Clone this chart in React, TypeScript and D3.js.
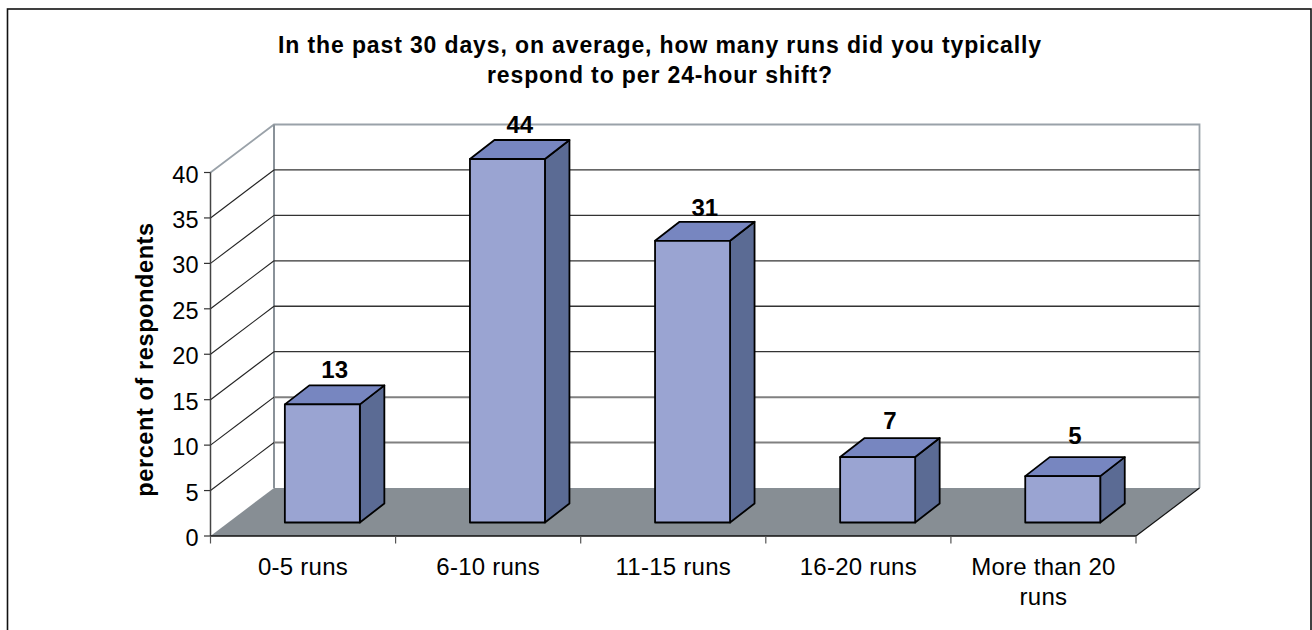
import React from "react";
import * as d3 from "d3";

const categories = ["0-5 runs", "6-10 runs", "11-15 runs", "16-20 runs", "More than 20 runs"];
const categoryLines = [["0-5 runs"], ["6-10 runs"], ["11-15 runs"], ["16-20 runs"], ["More than 20", "runs"]];
const labels = ["13", "44", "31", "7", "5"];
const values = [13, 44, 31, 7.2, 5.1];
const yTicks = [0, 5, 10, 15, 20, 25, 30, 35, 40];
const titleLines = [
  "In the past 30 days, on average, how many runs did you typically",
  "respond to per 24-hour shift?",
];
const yTitle = "percent of respondents";

const FONT = "'Liberation Sans', Arial, sans-serif";
const labelGap = [-26, -26, -24.5, -28, -32.5];
const frontLeft = 210.5, frontRight = 1136, frontBottom = 536, frontTop = 172.5;
const depthX = 63.5, depthY = -48;
const barShiftX = 19.3, barShiftY = -13.5;
const barDX = 24.5, barDY = -19;
const barW = 75;

const x = d3.scaleBand<string>().domain(categories).range([frontLeft, frontRight]).paddingInner(0).paddingOuter(0);
const y = d3.scaleLinear().domain([0, 40]).range([frontBottom, frontTop]).clamp(true);
const pts = (a: number[][]) => a.map((p) => p.join(",")).join(" ");

export default function App() {
  const xTicks = d3.range(0, 6).map((i) => frontLeft + i * x.bandwidth());
  return (
    <svg width={1312} height={630} style={{ position: "absolute", left: 0, top: 0 }} fontFamily={FONT}>
      <rect x={0} y={0} width={1312} height={630} fill="#fff" />
      <rect x={7.5} y={9} width={1303.5} height={640} fill="#fff" stroke="#111" strokeWidth={1.6} />
      {titleLines.map((t, i) => (
        <text key={t} x={660} y={52.5 + i * 30.5} textAnchor="middle" fontWeight="bold" fontSize={23} letterSpacing={0.87} fill="#000">{t}</text>
      ))}
      <polygon points={pts([[frontLeft, frontBottom], [frontRight, frontBottom], [frontRight + depthX, frontBottom + depthY], [frontLeft + depthX, frontBottom + depthY]])} fill="#878e94" />
      {/* walls */}
      <polyline points={pts([[frontLeft, frontTop], [frontLeft + depthX, frontTop + depthY], [frontRight + depthX, frontTop + depthY], [frontRight + depthX, frontBottom + depthY]])} fill="none" stroke="#9aa2a9" strokeWidth={1.8} />
      <line x1={frontLeft + depthX} x2={frontLeft + depthX} y1={frontTop + depthY} y2={frontBottom + depthY} stroke="#8a9299" strokeWidth={2} />
      {yTicks.slice(1, -1).map((v) => (
        <g key={v} fill="none">
          <line x1={frontLeft} y1={y(v)} x2={frontLeft + depthX} y2={y(v) + depthY} stroke="#222" strokeWidth={1.1} />
          <line x1={frontLeft + depthX} y1={y(v) + depthY} x2={frontRight + depthX} y2={y(v) + depthY}
            stroke={v <= 10 ? "#808080" : "#333"} strokeWidth={v <= 10 ? 2 : 1.3} />
        </g>
      ))}
      {/* axes */}
      <line x1={frontLeft} x2={frontLeft} y1={frontTop} y2={frontBottom} stroke="#444" strokeWidth={1.5} />
      <line x1={frontLeft} x2={frontRight} y1={frontBottom} y2={frontBottom} stroke="#111" strokeWidth={1.5} />
      <line x1={frontRight} x2={frontRight + depthX} y1={frontBottom} y2={frontBottom + depthY} stroke="#111" strokeWidth={1.2} />
      {yTicks.map((v) => (
        <g key={v}>
          <line x1={frontLeft - 6.5} x2={frontLeft} y1={y(v)} y2={y(v)} stroke="#333" strokeWidth={1.2} />
          <text x={198.5} y={y(v) + 10} textAnchor="end" fontSize={23.5} fill="#000">{v}</text>
        </g>
      ))}
      {xTicks.map((t) => (
        <line key={t} x1={t} x2={t} y1={frontBottom} y2={frontBottom + 7.5} stroke="#555" strokeWidth={1.2} />
      ))}
      {categories.map((c, i) => (
        <g key={c}>
          {categoryLines[i].map((l, j) => (
            <text key={l} x={x(c)! + x.bandwidth() / 2} y={575 + j * 30} textAnchor="middle" fontSize={24} letterSpacing={0.25} fill="#000">{l}</text>
          ))}
        </g>
      ))}
      <text transform={`translate(152.7,359.5) rotate(-90)`} textAnchor="middle" fontWeight="bold" fontSize={23.5} letterSpacing={0.6} fill="#000">{yTitle}</text>
      {/* bars */}
      {categories.map((c, i) => {
        const x0 = x(c)! + (x.bandwidth() - barW) / 2 + barShiftX;
        const x1 = x0 + barW;
        const b = y(0) + barShiftY;
        const t = y(values[i]) + barShiftY;
        return (
          <g key={c} stroke="#000" strokeWidth={1.8} strokeLinejoin="round">
            <polygon points={pts([[x1, t], [x1 + barDX, t + barDY], [x1 + barDX, b + barDY], [x1, b]])} fill="#5b6b94" />
            <polygon points={pts([[x0, t], [x0 + barDX, t + barDY], [x1 + barDX, t + barDY], [x1, t]])} fill="#7786c0" />
            <rect x={x0} y={t} width={barW} height={b - t} fill="#9aa4d2" />
            <text x={x0 + barW / 2 + 12.3} y={t + labelGap[i]} textAnchor="middle" fontWeight="bold" fontSize={24} stroke="none" fill="#000">{labels[i]}</text>
          </g>
        );
      })}
    </svg>
  );
}
